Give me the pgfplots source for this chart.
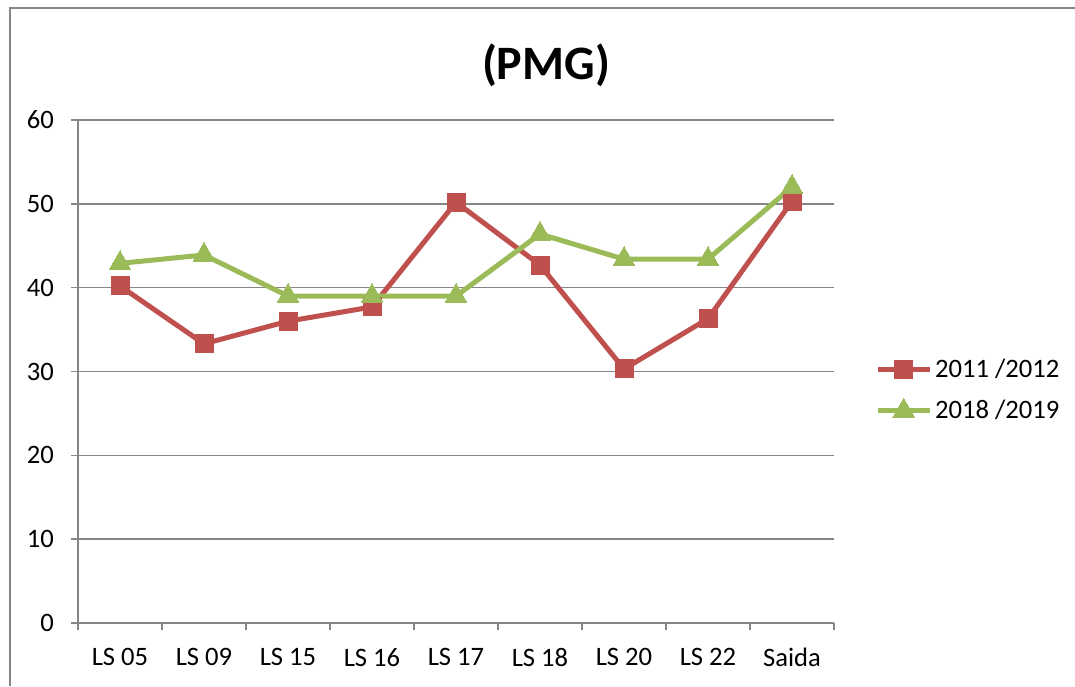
\documentclass[border=0pt]{standalone}
\usepackage{pgfplots}
\pgfplotsset{compat=1.18}
\usepackage{fontspec}
\setmainfont{Carlito}
\definecolor{sred}{HTML}{C0504D}
\definecolor{sgreen}{HTML}{9BBB59}
\definecolor{axgray}{HTML}{868686}
\begin{document}
\begin{tikzpicture}
\useasboundingbox (0,0) rectangle (537.5pt,343pt);
\draw[axgray, line width=0.8pt] (5pt,0) -- (5pt,339pt) -- (537.5pt,339pt);
\node[font=\fontsize{24}{28}\selectfont\bfseries] at (273pt,310.5pt) {(PMG)};
\begin{axis}[
  at={(39pt,31.5pt)}, anchor=south west,
  scale only axis, width=378pt, height=251.5pt,
  xmin=-0.5, xmax=8.5, ymin=0, ymax=60,
  axis x line*=bottom, axis y line*=left,
  axis line style={axgray, line width=0.8pt, -},
  xtick={0,...,8},
  xticklabels={LS 05,LS 09,LS 15,LS 16,LS 17,LS 18,LS 20,LS 22,Saida},
  major x tick style={draw=none},
  minor xtick={-0.5,0.5,...,8.5},
  minor x tick style={axgray, line width=0.8pt},
  minor tick length=3.5pt,
  ytick={0,10,...,60},
  ytick style={axgray, line width=0.8pt},
  major tick length=3.5pt,
  tick align=outside,
  ymajorgrids, major grid style={axgray, line width=0.8pt},
  tick label style={font=\fontsize{13.3}{16}\selectfont, /pgf/number format/assume math mode=true},
  xticklabel style={yshift=-5.5pt},
  yticklabel style={xshift=-5pt},
  legend style={at={(1.054,0.463)}, anchor=west, draw=none, fill=none, inner sep=0pt,
    font=\fontsize{13.3}{16}\selectfont, row sep=7pt, nodes={inner sep=1.5pt}},
  legend cell align=left,
  legend image code/.code={\draw[mark repeat=2,mark phase=2,#1] plot coordinates {(0pt,0pt) (13pt,0pt) (26pt,0pt)};},
]
\addplot[sred, line width=2.5pt, mark=square*, mark size=4.5pt, mark options={solid, line width=0pt}] coordinates {
(0,40.2) (1,33.3) (2,36.0) (3,37.7) (4,50.2) (5,42.7) (6,30.3) (7,36.3) (8,50.3)};
\addlegendentry{2011 /2012}
\addplot[sgreen, line width=2.5pt, mark=triangle*, mark size=6.3pt, mark options={solid, line width=0pt}] coordinates {
(0,42.9) (1,43.9) (2,39.0) (3,39.0) (4,39.0) (5,46.4) (6,43.4) (7,43.4) (8,52.0)};
\addlegendentry{2018 /2019}
\end{axis}
\end{tikzpicture}
\end{document}
